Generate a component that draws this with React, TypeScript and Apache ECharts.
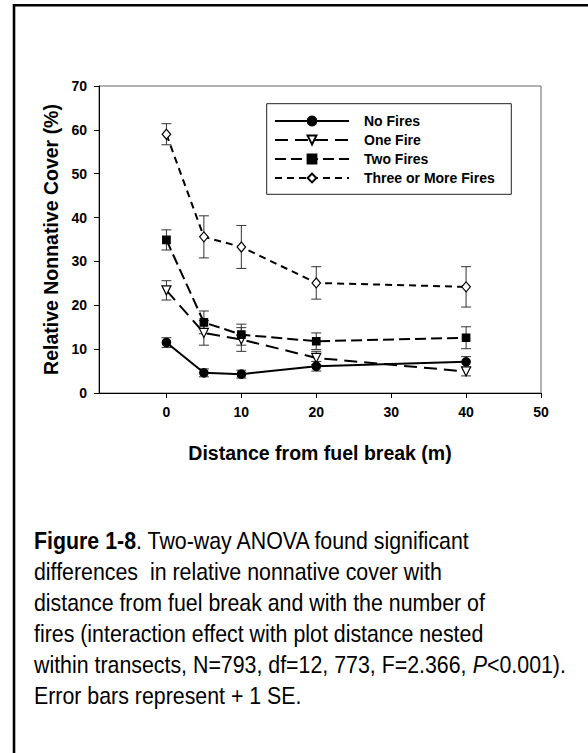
import React, { useEffect, useRef } from "react";
import * as echarts from "echarts";

const distances = [0, 5, 10, 20, 40];
const xTickValues = [0, 10, 20, 30, 40, 50];
const seriesNames = ["No Fires", "One Fire", "Two Fires", "Three or More Fires"];
const noFires = [11.5, 4.6, 4.3, 6.1, 7.1];
const noFiresSE = [1.1, 0.9, 0.9, 1.1, 1.2];
const oneFire = [23.4, 13.7, 12.2, 8.0, 4.9];
const oneFireSE = [2.2, 2.8, 2.7, 1.5, 1.0];
const twoFires = [34.9, 16.1, 13.3, 11.8, 12.6];
const twoFiresSE = [2.3, 2.6, 2.4, 1.9, 2.5];
const threeFires = [59.0, 35.6, 33.3, 25.1, 24.2];
const threeFiresSE = [2.4, 4.8, 4.9, 3.7, 4.6];

const captionLines = [
  "{b|Figure 1-8}. Two-way ANOVA found significant",
  "differences  in relative nonnative cover with",
  "distance from fuel break and with the number of",
  "fires (interaction effect with plot distance nested",
  "within transects, N=793, df=12, 773, F=2.366, {i|P}<0.001).",
  "Error bars represent + 1 SE.",
];

const FONT = "'Liberation Sans', Arial, Helvetica, sans-serif";

const means = [noFires, oneFire, twoFires, threeFires];
const ses = [noFiresSE, oneFireSE, twoFiresSE, threeFiresSE];
const looks = [
  { symbol: "circle", size: 8.5, fill: "#000", dash: "solid" as any, rotate: 0 },
  { symbol: "triangle", size: 9, fill: "#fff", dash: [13, 7], rotate: 180 },
  { symbol: "rect", size: 7.5, fill: "#000", dash: [11, 5], rotate: 0 },
  { symbol: "diamond", size: [8.5, 10], fill: "#fff", dash: [7, 5], rotate: 0 },
];

export default function App() {
  const ref = useRef<HTMLDivElement>(null);
  useEffect(() => {
    if (!ref.current) return;
    const chart = echarts.init(ref.current, undefined, { renderer: "svg" });

    const lineSeries = seriesNames.map((name, k) => ({
      name,
      type: "line",
      data: distances.map((d, i) => [d, means[k][i]]),
      symbol: looks[k].symbol,
      symbolSize: looks[k].size,
      symbolRotate: looks[k].rotate,
      showAllSymbol: true,
      z: 5,
      lineStyle: { color: "#000", width: 2, type: looks[k].dash },
      itemStyle: { color: looks[k].fill, borderColor: "#000", borderWidth: 1.2 },
      emphasis: { disabled: true },
    }));

    const errSeries = seriesNames.map((name, k) => ({
      name: name + " SE",
      type: "custom",
      z: 3,
      silent: true,
      data: distances.map((d, i) => [d, means[k][i] - ses[k][i], means[k][i] + ses[k][i]]),
      encode: { x: 0, y: [1, 2] },
      renderItem: (params: any, api: any) => {
        const x = api.value(0);
        const hi = api.coord([x, api.value(2)]);
        const lo = api.coord([x, api.value(1)]);
        const w = 5;
        const st = { stroke: "#333", lineWidth: 1 };
        return {
          type: "group",
          children: [
            { type: "line", shape: { x1: hi[0], y1: hi[1], x2: lo[0], y2: lo[1] }, style: st },
            { type: "line", shape: { x1: hi[0] - w, y1: hi[1], x2: hi[0] + w, y2: hi[1] }, style: st },
            { type: "line", shape: { x1: lo[0] - w, y1: lo[1], x2: lo[0] + w, y2: lo[1] }, style: st },
          ],
        };
      },
    }));

    const capFont = { fontSize: 24, fontFamily: FONT, fill: "#000" };
    const captionChildren = captionLines.map((t, i) => ({
      type: "text",
      x: 0,
      y: 548.7 + i * 31 - 8,
      style: {
        text: t,
        ...capFont,
        fontWeight: "normal",
        textAlign: "left",
        verticalAlign: "middle",
        rich: {
          b: { ...capFont, fontWeight: "bold" },
          i: { ...capFont, fontStyle: "italic" },
        },
      },
    }));

    chart.setOption({
      animation: false,
      backgroundColor: "#fff",
      grid: {
        left: 99,
        top: 86,
        width: 442,
        height: 307,
        show: true,
        borderColor: "#666",
        borderWidth: 1,
        containLabel: false,
      },
      xAxis: {
        type: "value",
        min: -9,
        max: 50,
        name: "Distance from fuel break (m)",
        nameLocation: "middle",
        nameGap: 50,
        nameTextStyle: { fontSize: 19.5, fontWeight: "bold", fontFamily: FONT, color: "#000" },
        axisLine: { show: true, onZero: false, lineStyle: { color: "#000", width: 1 } },
        axisTick: { show: true, inside: false, length: 5, customValues: xTickValues, lineStyle: { color: "#000" } },
        axisLabel: { customValues: xTickValues, fontSize: 14, fontWeight: "bold", fontFamily: FONT, color: "#000", margin: 12 },
        splitLine: { show: false },
      },
      yAxis: {
        type: "value",
        min: 0,
        max: 70,
        interval: 10,
        name: "Relative Nonnative Cover (%)",
        nameLocation: "middle",
        nameGap: 38,
        nameTextStyle: { fontSize: 19.5, fontWeight: "bold", fontFamily: FONT, color: "#000" },
        axisLine: { show: true, onZero: false, lineStyle: { color: "#000", width: 1 } },
        axisTick: { show: true, inside: false, length: 5, lineStyle: { color: "#000" } },
        axisLabel: { fontSize: 14, fontWeight: "bold", fontFamily: FONT, color: "#000", margin: 12 },
        splitLine: { show: false },
      },
      legend: {
        data: seriesNames,
        orient: "vertical",
        left: 274,
        top: 114,
        padding: 0,
        itemWidth: 74,
        itemHeight: 11,
        itemGap: 5,
        selectedMode: false,
        textStyle: { fontSize: 14, fontWeight: "bold", fontFamily: FONT, color: "#000", padding: [0, 0, 0, 10] },
      },
      graphic: [
        {
          type: "rect",
          z: 100,
          silent: true,
          shape: { x: 14, y: 5.3, width: 700, height: 900 },
          style: { fill: "none", stroke: "#000", lineWidth: 2.6 },
        },
        {
          type: "rect",
          z: 100,
          silent: true,
          shape: { x: 266.7, y: 103.7, width: 244.6, height: 90.6 },
          style: { fill: "none", stroke: "#222", lineWidth: 1 },
        },
        {
          type: "group",
          x: 34,
          y: 0,
          scaleX: 0.89,
          children: captionChildren,
        },
      ],
      series: [...errSeries, ...lineSeries],
    });

    return () => chart.dispose();
  }, []);

  return (
    <div
      ref={ref}
      style={{ position: "fixed", left: 0, top: 0, width: 588, height: 753, background: "#fff" }}
    />
  );
}
